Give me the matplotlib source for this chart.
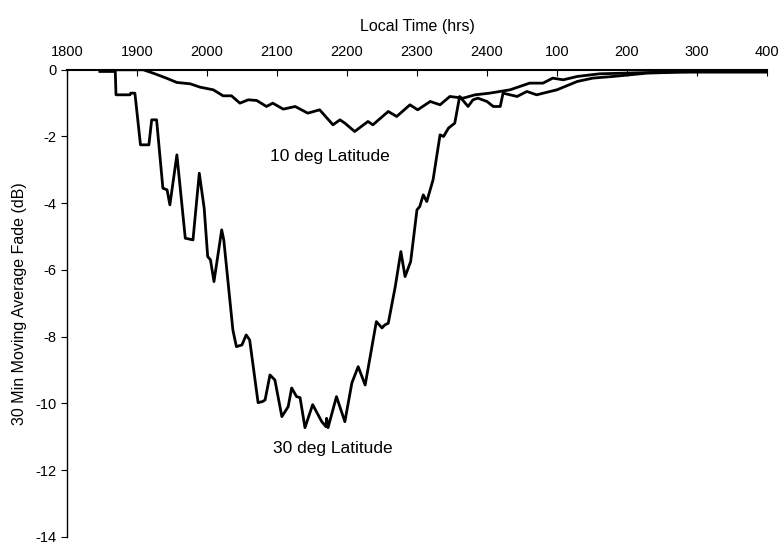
import matplotlib.pyplot as plt

plt.rcParams['font.family'] = ['Liberation Sans', 'DejaVu Sans']
plt.rcParams['axes.unicode_minus'] = False

# local time in hours after 1800 (24+ means after midnight), fade in dB
hrs_30 = [18.47, 18.69, 18.70, 18.90, 18.91, 18.97, 19.05, 19.17, 19.21, 19.28,
          19.37, 19.43, 19.47, 19.57, 19.69, 19.80, 19.89, 19.96, 20.01, 20.05,
          20.10, 20.21, 20.24, 20.37, 20.42, 20.50, 20.56, 20.61, 20.73, 20.79,
          20.83, 20.90, 20.97, 21.07, 21.16, 21.21, 21.28, 21.33, 21.40, 21.51,
          21.64, 21.70, 21.71, 21.73, 21.85, 21.97, 22.07, 22.16, 22.26, 22.42,
          22.50, 22.54, 22.59, 22.69, 22.77, 22.83, 22.91, 23.00, 23.04, 23.09,
          23.14, 23.23, 23.33, 23.38, 23.45, 23.54, 23.61, 23.73, 23.80, 23.87,
          24.00, 24.09, 24.19, 24.23, 24.43, 24.57, 24.71, 25.00, 25.29, 25.51,
          25.80, 26.29, 26.76, 28.00]
fade_30 = [-0.05, -0.05, -0.75, -0.75, -0.7, -0.7, -2.25, -2.25, -1.5, -1.5,
           -3.55, -3.6, -4.05, -2.55, -5.05, -5.1, -3.1, -4.15, -5.6, -5.7,
           -6.35, -4.8, -5.1, -7.8, -8.3, -8.25, -7.95, -8.1, -9.98, -9.95,
           -9.9, -9.15, -9.3, -10.4, -10.1, -9.54, -9.8, -9.83, -10.73, -10.04,
           -10.55, -10.7, -10.45, -10.73, -9.8, -10.55, -9.39, -8.9, -9.45, -7.55,
           -7.74, -7.65, -7.6, -6.5, -5.45, -6.2, -5.75, -4.2, -4.1, -3.75,
           -3.95, -3.3, -1.95, -2.0, -1.75, -1.6, -0.8, -1.1, -0.9, -0.85,
           -0.95, -1.1, -1.1, -0.7, -0.8, -0.65, -0.75, -0.6, -0.35, -0.25,
           -0.2, -0.1, -0.07, -0.07]

hrs_10 = [18.47, 19.09, 19.23, 19.42, 19.57, 19.76, 19.90, 20.09, 20.23, 20.35,
          20.47, 20.59, 20.71, 20.85, 20.94, 21.09, 21.26, 21.44, 21.61, 21.80,
          21.90, 21.97, 22.11, 22.30, 22.37, 22.59, 22.71, 22.90, 23.01, 23.19,
          23.33, 23.47, 23.66, 23.83, 24.04, 24.33, 24.61, 24.80, 24.94, 25.09,
          25.29, 25.61, 26.33, 27.04, 28.00]
fade_10 = [0.0, 0.0, -0.1, -0.25, -0.38, -0.42, -0.52, -0.6, -0.78, -0.78,
           -1.0, -0.9, -0.92, -1.1, -1.0, -1.18, -1.1, -1.3, -1.2, -1.65,
           -1.5, -1.6, -1.85, -1.55, -1.65, -1.25, -1.4, -1.05, -1.2, -0.95,
           -1.05, -0.8, -0.85, -0.75, -0.7, -0.6, -0.4, -0.4, -0.25, -0.3,
           -0.2, -0.12, -0.08, -0.05, -0.05]

tick_hrs = [18, 19, 20, 21, 22, 23, 24, 25, 26, 27, 28]
tick_labels = ['1800', '1900', '2000', '2100', '2200', '2300', '2400',
               '100', '200', '300', '400']

fig = plt.figure(figsize=(7.79, 5.44), dpi=100)
ax = fig.add_axes([0.086, 0.0134, 0.8985, 0.8583])

ax.plot(hrs_10, fade_10, color='black', lw=2.0, solid_joinstyle='round')
ax.plot(hrs_30, fade_30, color='black', lw=2.0, solid_joinstyle='round')

ax.set_xlim(18, 28)
ax.set_ylim(-14, 0)
ax.xaxis.tick_top()
ax.xaxis.set_label_position('top')
ax.set_xticks(tick_hrs)
ax.set_xticklabels(tick_labels)
ax.set_yticks(range(-14, 1, 2))
ax.tick_params(axis='x', direction='in', length=4, labelsize=10.5, pad=8)
ax.tick_params(axis='y', direction='out', length=4, labelsize=10.5)
ax.set_xlabel('Local Time (hrs)', fontsize=11.5, labelpad=10)
ax.set_ylabel('30 Min Moving Average Fade (dB)', fontsize=11.5, labelpad=6)

for s in ['right', 'bottom']:
    ax.spines[s].set_visible(False)
ax.spines['top'].set_linewidth(1.5)
ax.spines['left'].set_linewidth(1.0)

ax.text(21.75, -2.6, '10 deg Latitude', fontsize=12.5, ha='center', va='center')
ax.text(21.8, -11.35, '30 deg Latitude', fontsize=12.5, ha='center', va='center')

fig.savefig('out.png', dpi=100)
